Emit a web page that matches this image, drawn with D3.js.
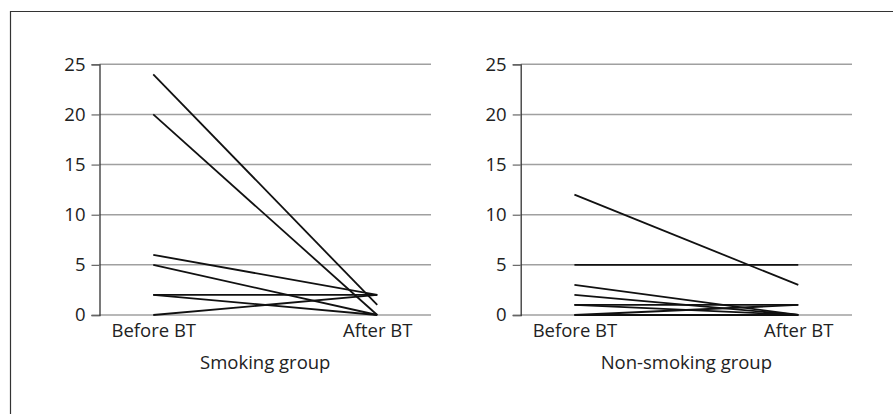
<!DOCTYPE html>
<html><head><meta charset="utf-8">
<script src="https://cdn.jsdelivr.net/npm/d3@7"></script>
<style>
body{margin:0;background:#fff;}
svg{display:block;font-family:"Open Sans",sans-serif;}
</style></head>
<body>
<script>
const categories = ["Before BT", "After BT"];
const yTicks = [0, 5, 10, 15, 20, 25];
const smokingBefore = [24, 20, 6, 5, 2, 2, 0];
const smokingAfter  = [1, 0, 2, 0, 2, 0, 2];
const nonSmokingBefore = [12, 5, 3, 2, 1, 1, 0, 0];
const nonSmokingAfter  = [3, 5, 0, 0, 1, 0, 1, 0];
const panelTitles = ["Smoking group", "Non-smoking group"];

const W = 893, H = 414;
const FS = 18.5;
const svg = d3.select("body").append("svg").attr("width", W).attr("height", H);

// frame
svg.append("path").attr("d", `M10.5,${H+2}V11.5H${W+2}`).attr("fill","none").attr("stroke","#333").attr("stroke-width",1.2);

const y = d3.scaleLinear().domain([0, 25]).range([315, 64.3]);

const panels = [
  {x0: 99.5, x1: 431, before: smokingBefore, after: smokingAfter, title: panelTitles[0]},
  {x0: 520.7, x1: 852, before: nonSmokingBefore, after: nonSmokingAfter, title: panelTitles[1]}
];

panels.forEach(p => {
  const g = svg.append("g");
  const x = d3.scalePoint().domain(categories).range([p.x0, p.x1]).padding(0.24);
  // gridlines
  g.selectAll("line.grid").data(yTicks).join("line")
    .attr("x1", p.x0).attr("x2", p.x1)
    .attr("y1", d => y(d)).attr("y2", d => y(d))
    .attr("stroke", "#a0a0a0").attr("stroke-width", 1.5);
  // y axis
  const ya = g.append("g").attr("transform", `translate(${p.x0},0)`)
    .call(d3.axisLeft(y).tickValues(yTicks).tickSize(8).tickPadding(6));
  ya.select(".domain").attr("stroke", "#333").attr("stroke-width", 1.3);
  ya.selectAll(".tick line").attr("stroke", "#666").attr("stroke-width", 1.2);
  ya.selectAll(".tick text").attr("font-size", FS).attr("fill", "#222").attr("font-family", "Open Sans");
  // x axis labels
  const xa = g.append("g").attr("transform", `translate(0,${y(0)})`)
    .call(d3.axisBottom(x).tickSize(0).tickPadding(9));
  xa.select(".domain").remove();
  xa.selectAll(".tick text").attr("font-size", FS).attr("fill", "#222").attr("font-family", "Open Sans");
  // lines
  const data = p.before.map((b, i) => [[categories[0], b], [categories[1], p.after[i]]]);
  const line = d3.line().x(d => x(d[0])).y(d => y(d[1]));
  g.selectAll("path.series").data(data).join("path")
    .attr("d", line).attr("fill", "none").attr("stroke", "#111").attr("stroke-width", 1.8);
  // title
  g.append("text").attr("x", (p.x0 + p.x1) / 2).attr("y", 369)
    .attr("text-anchor", "middle").attr("font-size", FS).attr("fill", "#222")
    .text(p.title);
});
</script>
</body></html>
